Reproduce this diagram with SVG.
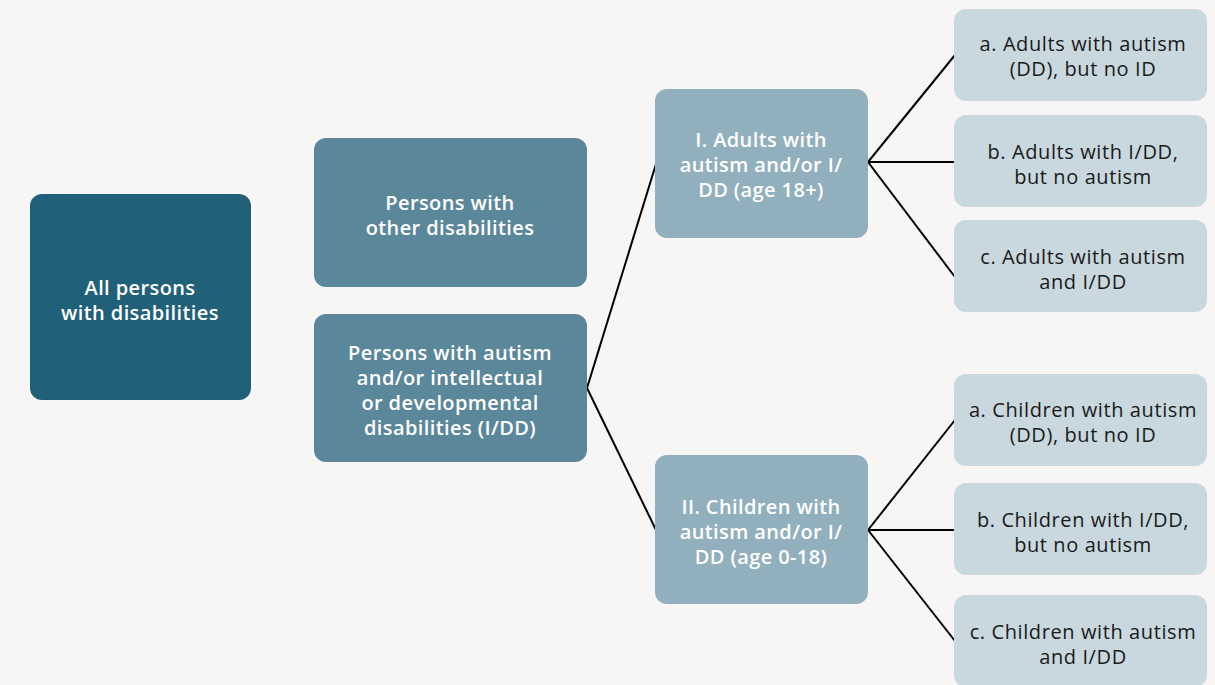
<svg xmlns="http://www.w3.org/2000/svg" width="1215" height="685" viewBox="0 0 1215 685">
<style>
.t{font-family:"Open Sans","Noto Sans","Liberation Sans",sans-serif;font-size:20px;letter-spacing:0.4px;text-anchor:middle}
.w{fill:#ffffff;font-weight:600}
.d{fill:#1a1a1a;letter-spacing:0.6px}
.n1{fill:#216079}
.n2{fill:#5b879b}
.n3{fill:#91afbd}
.n4{fill:#c9d7de}
.c{stroke:#000;stroke-width:2;fill:none}
</style>
<rect width="1215" height="685" fill="#f7f6f4"/>
<g id="connectors">
<line class="c" x1="587" y1="388" x2="656" y2="164"/>
<line class="c" x1="587" y1="388" x2="656" y2="530"/>
<line class="c" x1="868" y1="162" x2="955" y2="55"/>
<line class="c" x1="868" y1="162" x2="955" y2="162"/>
<line class="c" x1="868" y1="162" x2="955" y2="277"/>
<line class="c" x1="868" y1="530" x2="955" y2="420"/>
<line class="c" x1="868" y1="530" x2="955" y2="530"/>
<line class="c" x1="868" y1="530" x2="955" y2="641"/>
</g>
<g id="all">
<rect class="n1" x="30" y="194" width="221" height="206" rx="12"/>
<text class="t w" x="140" y="295">All persons</text>
<text class="t w" x="140" y="320">with disabilities</text>
</g>
<g id="other">
<rect class="n2" x="314" y="138" width="273" height="149" rx="12"/>
<text class="t w" x="450" y="210">Persons with</text>
<text class="t w" x="450" y="235">other disabilities</text>
</g>
<g id="idd">
<rect class="n2" x="314" y="314" width="273" height="148" rx="12"/>
<text class="t w" x="450" y="360">Persons with autism</text>
<text class="t w" x="450" y="385">and/or intellectual</text>
<text class="t w" x="450" y="410">or developmental</text>
<text class="t w" x="450" y="435">disabilities (I/DD)</text>
</g>
<g id="adults">
<rect class="n3" x="655" y="89" width="213" height="149" rx="12"/>
<text class="t w" x="761" y="147">I. Adults with</text>
<text class="t w" x="761" y="172">autism and/or I/</text>
<text class="t w" x="761" y="197">DD (age 18+)</text>
</g>
<g id="children">
<rect class="n3" x="655" y="455" width="213" height="149" rx="12"/>
<text class="t w" x="761" y="514">II. Children with</text>
<text class="t w" x="761" y="539">autism and/or I/</text>
<text class="t w" x="761" y="564">DD (age 0-18)</text>
</g>
<g id="adults-a">
<rect class="n4" x="954" y="9" width="253" height="92" rx="12"/>
<text class="t d" x="1083" y="51">a. Adults with autism</text>
<text class="t d" x="1083" y="76">(DD), but no ID</text>
</g>
<g id="adults-b">
<rect class="n4" x="954" y="115" width="253" height="92" rx="12"/>
<text class="t d" x="1083" y="159">b. Adults with I/DD,</text>
<text class="t d" x="1083" y="184">but no autism</text>
</g>
<g id="adults-c">
<rect class="n4" x="954" y="220" width="253" height="92" rx="12"/>
<text class="t d" x="1083" y="264">c. Adults with autism</text>
<text class="t d" x="1083" y="289">and I/DD</text>
</g>
<g id="children-a">
<rect class="n4" x="954" y="374" width="253" height="92" rx="12"/>
<text class="t d" x="1083" y="417">a. Children with autism</text>
<text class="t d" x="1083" y="442">(DD), but no ID</text>
</g>
<g id="children-b">
<rect class="n4" x="954" y="483" width="253" height="92" rx="12"/>
<text class="t d" x="1083" y="527">b. Children with I/DD,</text>
<text class="t d" x="1083" y="552">but no autism</text>
</g>
<g id="children-c">
<rect class="n4" x="954" y="595" width="253" height="92" rx="12"/>
<text class="t d" x="1083" y="639">c. Children with autism</text>
<text class="t d" x="1083" y="664">and I/DD</text>
</g>
</svg>
